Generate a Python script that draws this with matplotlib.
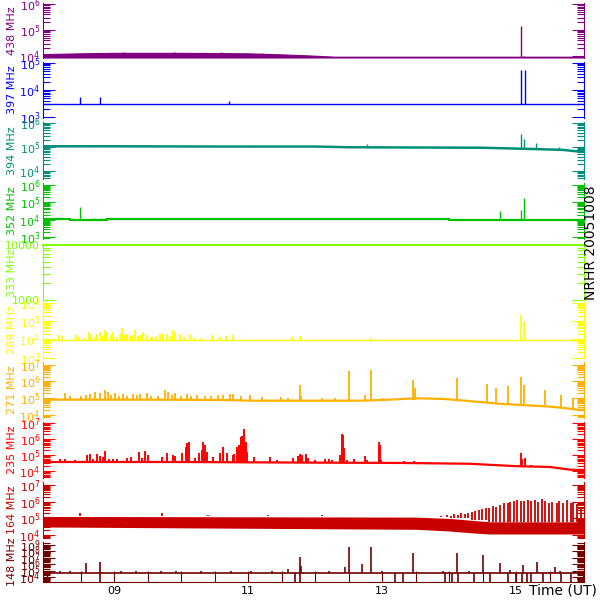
import numpy as np
import matplotlib
matplotlib.use('Agg')
import matplotlib.pyplot as plt
from matplotlib.ticker import LogLocator, FixedLocator, FuncFormatter, NullFormatter, MultipleLocator

# time in decimal hours UT, flux values as log10
t_start = 7.94
t_end = 16.01

# 438 MHz
f438_band_t = [7.94, 8.5, 9.0, 10.0, 11.0, 11.5, 11.9, 12.3, 16.01]
f438_band_hi = [4.07, 4.10, 4.12, 4.12, 4.10, 4.06, 4.02, 3.97, 3.97]
f438_band_lo = [3.94, 3.94, 3.94, 3.94, 3.94, 3.94, 3.94, 3.94, 3.94]
f438_spk_t = [9.13, 9.9, 10.6, 11.2, 15.07, 15.12]
f438_spk = [4.15, 4.16, 4.15, 4.13, 5.15, 4.0]

# 397 MHz
f397_base_t = [7.94, 16.01]
f397_base = [3.5, 3.5]
f397_spk_t = [8.49, 8.79, 10.72, 15.07, 15.13]
f397_spk = [3.75, 3.75, 3.62, 4.75, 4.75]

# 394 MHz
f394_base_t = [7.94, 9.0, 10.5, 12.0, 12.5, 13.5, 14.5, 15.2, 15.7, 15.9, 16.01]
f394_base = [5.03, 5.03, 5.02, 5.02, 4.99, 4.98, 4.97, 4.92, 4.88, 4.82, 4.86]
f394_spk_t = [8.49, 8.80, 9.85, 10.30, 11.0, 12.78, 14.3, 15.07, 15.12, 15.29, 15.63]
f394_spk = [5.07, 5.07, 5.06, 5.06, 5.05, 5.12, 5.0, 5.55, 5.35, 5.18, 4.98]

# 352 MHz
f352_base_t = [7.94, 8.15, 8.35, 8.9, 12.0, 14.0, 16.01]
f352_base = [4.03, 4.03, 3.98, 4.06, 4.05, 4.0, 3.97]
f352_spk_t = [8.49, 8.70, 8.80, 8.86, 14.75, 15.07, 15.12]
f352_spk = [4.75, 4.1, 4.1, 4.1, 4.5, 4.57, 5.25]

# 333 MHz
f333_t = [7.94, 16.01]
f333 = [4.0, 4.0]

# 289 MHz
f289_base_t = [7.94, 16.01]
f289_base = [3.96, 3.96]
f289_spk_t = [8.18, 8.22, 8.43, 8.48, 8.63, 8.66, 8.75, 8.79, 8.87, 8.90,
              8.99, 9.12, 9.16, 9.27, 9.31, 9.43, 9.49, 9.69, 9.73, 9.79,
              9.88, 9.91, 9.99, 10.13, 10.46, 10.67, 10.78, 11.66, 11.78, 12.82,
              15.07, 15.12, 8.55, 8.70, 8.83, 9.05, 9.20, 9.36, 9.55, 9.62,
              10.05, 10.20, 8.95, 9.09, 9.24, 9.40, 9.58, 9.83, 10.30, 10.58]
f289_spk = [4.22, 4.16, 4.22, 4.11, 4.38, 4.22, 4.32, 4.38, 4.54, 4.38,
            4.38, 4.65, 4.22, 4.22, 4.49, 4.43, 4.22, 4.32, 4.27, 4.27,
            4.49, 4.38, 4.27, 4.27, 4.22, 4.16, 4.22, 4.11, 4.16, 4.05,
            5.35, 4.97, 4.10, 4.15, 4.20, 4.15, 4.30, 4.20, 4.15, 4.20,
            4.15, 4.10, 4.25, 4.30, 4.18, 4.25, 4.12, 4.20, 4.10, 4.12]

# 271 MHz
f271_base_t = [7.94, 9.5, 10.7, 11.0, 12.7, 13.1, 13.5, 13.9, 14.2, 14.5, 14.8, 15.2, 15.5, 15.7, 15.9, 16.01]
f271_base = [4.90, 4.90, 4.88, 4.84, 4.84, 4.90, 4.98, 4.95, 4.85, 4.74, 4.64, 4.55, 4.48, 4.40, 4.30, 4.28]
f271_spk_t = [8.27, 8.64, 8.72, 8.79, 8.87, 8.91, 9.01, 9.13, 9.28, 9.39,
              9.49, 9.76, 9.81, 9.91, 10.09, 10.24, 10.55, 10.73, 10.78, 11.03,
              11.49, 11.78, 11.79, 12.51, 12.75, 12.84, 13.46, 13.49, 14.12, 14.57,
              14.70, 14.87, 15.07, 15.12, 15.43, 15.66, 15.84,
              8.35, 8.50, 8.58, 8.95, 9.07, 9.20, 9.34, 9.55, 9.65, 9.86,
              10.00, 10.15, 10.35, 10.45, 10.62, 10.90, 11.20, 11.60, 12.10, 12.30, 13.00]
f271_spk = [5.30, 5.24, 5.36, 5.30, 5.48, 5.36, 5.30, 5.24, 5.24, 5.24,
            5.30, 5.48, 5.36, 5.30, 5.24, 5.18, 5.18, 5.24, 5.24, 5.18,
            5.06, 5.79, 5.12, 6.64, 5.18, 6.70, 6.09, 5.61, 6.20, 5.85,
            5.60, 5.70, 6.30, 5.80, 5.50, 5.20, 5.00,
            5.15, 5.10, 5.20, 5.20, 5.15, 5.10, 5.20, 5.15, 5.10, 5.20,
            5.10, 5.15, 5.10, 5.10, 5.20, 5.10, 5.05, 5.00, 5.00, 5.00, 5.00]

# 235 MHz
f235_base_t = [7.94, 10.0, 12.0, 13.3, 14.3, 15.0, 15.5, 15.8, 16.01]
f235_base = [4.56, 4.56, 4.52, 4.50, 4.45, 4.30, 4.25, 4.08, 4.06]
f235_spk_t = [8.19, 8.27, 8.42, 8.59, 8.64, 8.69, 8.75, 8.79, 8.83, 8.87,
              8.92, 8.99, 9.05, 9.19, 9.26, 9.37, 9.41, 9.46, 9.50, 9.71,
              9.79, 9.88, 9.91, 10.01, 10.07, 10.09, 10.12, 10.21, 10.27, 10.31,
              10.33, 10.36, 10.38, 10.48, 10.58, 10.62, 10.69, 10.77, 10.79, 10.83,
              10.87, 10.90, 10.91, 10.94, 10.97, 10.99, 11.08, 11.33, 11.43, 11.67,
              11.74, 11.78, 11.81, 11.87, 11.89, 12.00, 12.15, 12.21, 12.25, 12.37,
              12.40, 12.42, 12.43, 12.47, 12.58, 12.75, 12.77, 12.95, 12.96, 12.98,
              13.32, 13.47, 15.07, 15.09, 15.13, 15.22]
f235_spk = [4.73, 4.75, 4.69, 5.00, 5.08, 4.73, 5.06, 4.94, 4.90, 5.25,
            4.73, 4.73, 4.73, 4.79, 4.90, 5.17, 4.79, 5.27, 5.00, 4.90,
            5.10, 5.00, 4.94, 5.10, 5.48, 5.73, 5.79, 4.79, 5.10, 5.31,
            5.79, 5.62, 5.21, 4.90, 5.10, 5.48, 5.15, 5.00, 5.06, 5.52,
            5.62, 6.10, 6.20, 6.60, 5.79, 5.21, 4.90, 4.86, 4.69, 4.81,
            4.94, 5.04, 4.98, 5.06, 4.80, 4.70, 4.73, 4.73, 4.69, 5.00,
            6.31, 6.25, 5.42, 4.69, 4.73, 4.94, 4.69, 5.83, 5.63, 4.69,
            4.60, 4.62, 5.13, 4.75, 4.80, 4.35]

# 164 MHz
f164_band_t = [7.94, 13.5, 14.0, 14.3, 14.6, 16.01]
f164_band_lo = [4.49, 4.35, 4.25, 4.15, 4.07, 4.07]
f164_band_hi = [5.12, 5.08, 5.00, 4.90, 4.80, 4.80]
f164_spk_t = [8.49, 9.72, 10.4, 11.3, 12.1, 13.75, 13.81, 13.87, 13.93, 13.97,
              14.03, 14.07, 14.13, 14.18, 14.24, 14.28, 14.34, 14.39, 14.45, 14.49,
              14.55, 14.60, 14.66, 14.70, 14.76, 14.81, 14.87, 14.91, 14.97, 15.01,
              15.07, 15.12, 15.18, 15.22, 15.28, 15.33, 15.39, 15.43, 15.49, 15.54,
              15.60, 15.64, 15.70, 15.75, 15.81, 15.85, 15.91, 15.96]
f164_spk = [5.30, 5.30, 5.20, 5.20, 5.20, 5.10, 5.10, 5.15, 5.10, 5.20,
            5.15, 5.25, 5.20, 5.30, 5.25, 5.35, 5.40, 5.45, 5.50, 5.55,
            5.65, 5.60, 5.75, 5.70, 5.80, 5.90, 5.95, 6.00, 6.05, 6.10,
            6.05, 6.05, 6.10, 6.05, 6.10, 6.00, 6.15, 6.05, 5.95, 6.00,
            5.90, 6.05, 5.95, 6.10, 5.90, 6.00, 5.85, 5.70]

# 148 MHz
f148_base_t = [7.94, 16.01]
f148_base = [4.62, 4.62]
f148_up_t = [8.58, 8.79, 11.78, 11.79, 12.51, 12.45, 12.70, 12.84, 13.46, 14.12,
             14.51, 14.76, 15.10, 15.31, 15.58, 8.20, 8.35, 9.10, 9.33, 9.70,
             9.93, 10.30, 10.75, 11.05, 11.35, 11.60, 12.20, 13.00, 13.90, 14.30,
             14.90, 15.65, 15.88]
f148_up = [6.19, 6.34, 7.13, 5.72, 8.69, 5.56, 6.03, 8.69, 7.75, 7.75,
           7.44, 6.19, 5.88, 6.34, 5.56, 4.95, 4.90, 5.00, 4.90, 4.95,
           4.85, 4.90, 4.85, 4.95, 4.90, 5.20, 4.90, 5.00, 4.95, 5.00,
           5.10, 5.00, 4.90]
f148_down_t = [8.79, 11.70, 11.78, 13.19, 13.31, 13.94, 14.04, 14.13, 14.37, 14.61,
               14.87, 14.99, 15.09, 15.16, 15.22, 15.40, 15.66, 15.81]

panels = [
    ('438 MHz', '#800080', 3.92, 6.04, 3, 58),
    ('397 MHz', '#0000ff', 2.98, 5.03, 62, 118),
    ('394 MHz', '#00907a', 3.67, 6.04, 122, 179),
    ('352 MHz', '#00c000', 2.91, 6.11, 183, 239),
    ('333 MHz', '#80ff00', 3.0, 4.0, 245, 300),
    ('289 MHz', '#ffff00', 2.98, 6.05, 302, 358),
    ('271 MHz', '#ffb000', 3.79, 7.18, 362, 418),
    ('235 MHz', '#ff0000', 3.56, 7.06, 422, 478),
    ('164 MHz', '#c80000', 3.83, 7.18, 482, 538),
    ('148 MHz', '#700000', 3.2, 9.47, 542, 582),
]


def base_at(bt, bv, t):
    idx = np.searchsorted(bt, t, side='right') - 1
    idx = np.clip(idx, 0, len(bv) - 1)
    return np.asarray(bv)[idx]


def spikes(ax, bt, bv, st, sv, col, lw=1.0):
    st = np.asarray(st)
    ax.vlines(st, 10 ** base_at(bt, bv, st), 10 ** np.asarray(sv), color=col, lw=lw)


fig = plt.figure(figsize=(6, 6), dpi=100)
axes = []
for name, col, lo, hi, ytop, ybot in panels:
    ax = fig.add_axes([43 / 600., 1 - ybot / 600., (584 - 43) / 600., (ybot - ytop) / 600.])
    ax.set_yscale('log')
    ax.set_xlim(t_start, t_end)
    ax.set_ylim(10 ** lo, 10 ** hi)
    ax.patch.set_alpha(0)
    ax.spines['top'].set_visible(False)
    ax.spines['bottom'].set_visible(False)
    ax.spines['left'].set_color(col)
    ax.spines['right'].set_color(col)
    ax.yaxis.set_major_locator(LogLocator(base=10, numticks=30))
    ax.yaxis.set_minor_locator(LogLocator(base=10, subs=np.arange(2, 10), numticks=30))
    ax.yaxis.set_minor_formatter(NullFormatter())
    ax.tick_params(axis='y', which='both', direction='in', left=True, right=True,
                   colors=col, labelsize=8, pad=2)
    ax.tick_params(axis='y', which='major', length=8.5, width=0.8)
    ax.tick_params(axis='y', which='minor', length=5, width=0.8)
    ax.tick_params(axis='x', which='both', bottom=False, labelbottom=False)
    fig.text(12 / 600., 1 - (ytop + ybot) / 1200., name, rotation=90, color=col,
             ha='center', va='center', fontsize=8)
    axes.append(ax)

c = [p[1] for p in panels]

# 438
ax = axes[0]
ax.fill_between(f438_band_t, 10 ** np.array(f438_band_lo), 10 ** np.array(f438_band_hi), color=c[0], lw=0.8)
spikes(ax, f438_band_t, f438_band_lo, f438_spk_t, f438_spk, c[0])

# 397
ax = axes[1]
ax.plot(f397_base_t, 10 ** np.array(f397_base), color=c[1], lw=1.0)
spikes(ax, f397_base_t, f397_base, f397_spk_t, f397_spk, c[1])

# 394
ax = axes[2]
ax.plot(f394_base_t, 10 ** np.array(f394_base), color=c[2], lw=1.8)
spikes(ax, f394_base_t, f394_base, f394_spk_t, f394_spk, c[2])

# 352
ax = axes[3]
ax.step(f352_base_t, 10 ** np.array(f352_base), where='post', color=c[3], lw=1.6)
spikes(ax, f352_base_t, f352_base, f352_spk_t, f352_spk, c[3])

# 333
ax = axes[4]
ax.plot(f333_t, 10 ** np.array(f333), color=c[4], lw=1.5, clip_on=False)
ax.yaxis.set_major_locator(FixedLocator([1000, 10000]))
ax.yaxis.set_major_formatter(FuncFormatter(lambda v, p: '%d' % round(v)))

# 289
ax = axes[5]
ax.plot(f289_base_t, 10 ** np.array(f289_base), color=c[5], lw=1.0)
spikes(ax, f289_base_t, f289_base, f289_spk_t, f289_spk, c[5], lw=1.3)

# 271
ax = axes[6]
ax.plot(f271_base_t, 10 ** np.array(f271_base), color=c[6], lw=1.6)
spikes(ax, f271_base_t, f271_base, f271_spk_t, f271_spk, c[6], lw=1.3)

# 235
ax = axes[7]
ax.plot(f235_base_t, 10 ** np.array(f235_base), color=c[7], lw=1.6)
spikes(ax, f235_base_t, f235_base, f235_spk_t, f235_spk, c[7], lw=1.4)

# 164
ax = axes[8]
ax.fill_between(f164_band_t, 10 ** np.array(f164_band_lo), 10 ** np.array(f164_band_hi), color=c[8], lw=0)
spikes(ax, f164_band_t, f164_band_hi, f164_spk_t, f164_spk, c[8], lw=1.3)

# 148
ax = axes[9]
ax.plot(f148_base_t, 10 ** np.array(f148_base), color=c[9], lw=1.2)
spikes(ax, f148_base_t, f148_base, f148_up_t, f148_up, c[9], lw=1.2)
ax.vlines(f148_down_t, 10 ** 3.2, 10 ** base_at(f148_base_t, f148_base, np.asarray(f148_down_t)), color=c[9], lw=1.2)
ax.spines['bottom'].set_visible(True)
ax.spines['bottom'].set_color(c[9])
ax.xaxis.set_major_locator(FixedLocator([9, 11, 13, 15]))
ax.xaxis.set_major_formatter(FuncFormatter(lambda v, p: '%02d' % round(v)))
ax.xaxis.set_minor_locator(MultipleLocator(0.5))
ax.tick_params(axis='x', which='both', bottom=True, labelbottom=True, direction='in',
               colors=c[9], labelcolor='black', labelsize=8, pad=3)
ax.tick_params(axis='x', which='major', length=8, width=0.8)
ax.tick_params(axis='x', which='minor', length=8, width=0.8)

fig.text(563 / 600., 1 - 591 / 600., 'Time (UT)', ha='center', va='center', fontsize=10)
fig.text(591 / 600., 1 - 243 / 600., 'NRHR 20051008', rotation=90, ha='center', va='center', fontsize=10)

fig.savefig('out.png', dpi=100)
